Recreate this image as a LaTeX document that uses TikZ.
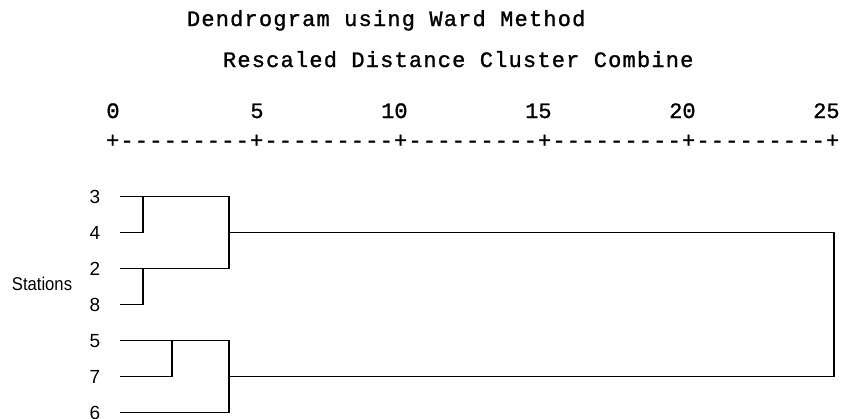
\documentclass[tikz,border=0pt]{standalone}
\usepackage{fontspec}
\newfontfamily\outfont{Liberation Mono}[Ligatures=TeXOff,FakeBold=1.2]
\newfontfamily\lblfont{Liberation Sans}
\begin{document}
\begin{tikzpicture}[x=1pt,y=-1pt,
  txt/.style={inner sep=0pt,outer sep=0pt},
  headtext/.style={txt,anchor=base west,font=\outfont\fontsize{22}{26}\selectfont\addfontfeatures{LetterSpace=5.45}},
  ticknum/.style={txt,anchor=base east,font=\outfont\fontsize{22}{26}\selectfont},
  leaf/.style={txt,anchor=base,font=\lblfont\fontsize{19}{21}\selectfont},
  branch/.style={line width=1.8pt,line cap=rect,line join=miter}]
\useasboundingbox (0,0) rectangle (842,418);

% headings
\node[headtext] (title) at (187,26) {Dendrogram using Ward Method};
\node[headtext] (sub) at (223,67) {Rescaled Distance Cluster Combine};

% scale numbers, last digit over each tick
\foreach \v/\px in {0/113,5/257,10/401,15/545,20/689,25/833}
  \node[ticknum] (t\v) at (\px+6.6,118) {\v};
\node[headtext] (axis) at (106.1,147.5) {+---------+---------+---------+---------+---------+};

% leaf labels and leaf line starts
\foreach \c/\yy in {3/196.5,4/232.5,2/268.5,8/304.5,5/340.5,7/376.5,6/412.5}{
  \node[leaf] (n\c) at (95,\yy+6.8) {\c};
  \coordinate (s\c) at (121,\yy);
}
\node[txt,anchor=base,font=\lblfont\fontsize{18.5}{20}\selectfont] (stations) at (42,290) {\scalebox{0.9}[1]{Stations}};

% merge points
\coordinate (m34) at (143,196.5);
\coordinate (m28) at (143,268.5);
\coordinate (m57) at (172,340.5);
\coordinate (a1) at (229,196.5);
\coordinate (a2) at (229,268.5);
\coordinate (am) at (229,232.5);
\coordinate (b1) at (229,340.5);
\coordinate (b2) at (229,412.5);
\coordinate (bm) at (229,376.5);
\coordinate (r1) at (834,232.5);
\coordinate (r2) at (834,376.5);

% tree
\draw[branch] (s3) -- (a1) -- (a2) -- (s2);
\draw[branch] (s4) -| (m34);
\draw[branch] (s8) -| (m28);
\draw[branch] (s5) -- (b1) -- (b2) -- (s6);
\draw[branch] (s7) -| (m57);
\draw[branch] (am) -- (r1) -- (r2) -- (bm);
\end{tikzpicture}
\end{document}
